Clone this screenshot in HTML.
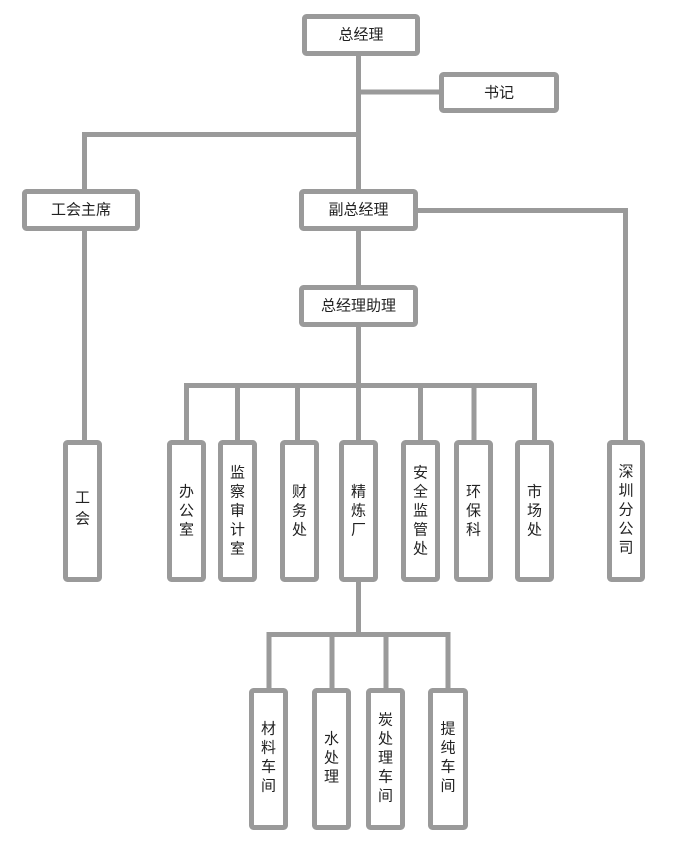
<!DOCTYPE html>
<html><head><meta charset="utf-8"><style>
html,body{margin:0;padding:0;background:#fff;}
svg{display:block;}
text{font-family:"Liberation Sans","Noto Sans CJK SC",sans-serif;font-size:15px;fill:#222;text-anchor:middle;dominant-baseline:central;}
</style></head><body>
<svg width="682" height="853" viewBox="0 0 682 853" xmlns="http://www.w3.org/2000/svg">
<g stroke="#9a9a9a" stroke-width="5" fill="none">
<!-- connectors -->
<line x1="358.5" y1="54" x2="358.5" y2="192"/>
<line x1="358.5" y1="92" x2="442" y2="92"/>
<line x1="84.5" y1="134.5" x2="358.5" y2="134.5"/>
<line x1="84.5" y1="132" x2="84.5" y2="192"/>
<line x1="84.5" y1="229" x2="84.5" y2="442"/>
<line x1="416" y1="210.5" x2="628" y2="210.5"/>
<line x1="625.5" y1="208" x2="625.5" y2="442"/>
<line x1="358.5" y1="229" x2="358.5" y2="287"/>
<line x1="358.5" y1="325" x2="358.5" y2="385"/>
<line x1="186" y1="385.5" x2="536.5" y2="385.5"/>
<line x1="186.5" y1="383" x2="186.5" y2="442"/>
<line x1="237.5" y1="383" x2="237.5" y2="442"/>
<line x1="297.5" y1="383" x2="297.5" y2="442"/>
<line x1="358.5" y1="383" x2="358.5" y2="442"/>
<line x1="420.5" y1="383" x2="420.5" y2="442"/>
<line x1="474" y1="383" x2="474" y2="442"/>
<line x1="534.5" y1="383" x2="534.5" y2="442"/>
<line x1="358.5" y1="580" x2="358.5" y2="634.5"/>
<line x1="267" y1="634.5" x2="450" y2="634.5"/>
<line x1="269" y1="632" x2="269" y2="690"/>
<line x1="332" y1="632" x2="332" y2="690"/>
<line x1="386" y1="632" x2="386" y2="690"/>
<line x1="448" y1="632" x2="448" y2="690"/>
<!-- boxes -->
<rect x="304.5" y="16.5" width="113" height="37" rx="2" fill="#fff"/>
<rect x="441.5" y="74.5" width="115" height="36" rx="2" fill="#fff"/>
<rect x="24.5" y="191.5" width="113" height="37" rx="2" fill="#fff"/>
<rect x="301.5" y="191.5" width="114" height="37" rx="2" fill="#fff"/>
<rect x="301.5" y="287.5" width="114" height="37" rx="2" fill="#fff"/>
<rect x="65.5" y="442.5" width="34" height="137" rx="2" fill="#fff"/>
<rect x="169.5" y="442.5" width="34" height="137" rx="2" fill="#fff"/>
<rect x="220.5" y="442.5" width="34" height="137" rx="2" fill="#fff"/>
<rect x="282.5" y="442.5" width="34" height="137" rx="2" fill="#fff"/>
<rect x="341.5" y="442.5" width="34" height="137" rx="2" fill="#fff"/>
<rect x="403.5" y="442.5" width="34" height="137" rx="2" fill="#fff"/>
<rect x="456.5" y="442.5" width="34" height="137" rx="2" fill="#fff"/>
<rect x="517.5" y="442.5" width="34" height="137" rx="2" fill="#fff"/>
<rect x="609.5" y="442.5" width="33" height="137" rx="2" fill="#fff"/>
<rect x="251.5" y="690.5" width="34" height="137" rx="2" fill="#fff"/>
<rect x="314.5" y="690.5" width="34" height="137" rx="2" fill="#fff"/>
<rect x="368.5" y="690.5" width="34" height="137" rx="2" fill="#fff"/>
<rect x="430.5" y="690.5" width="35" height="137" rx="2" fill="#fff"/>
</g>
<text x="361" y="35">总经理</text>
<text x="499" y="93">书记</text>
<text x="81" y="210">工会主席</text>
<text x="358.5" y="210">副总经理</text>
<text x="358.5" y="306">总经理助理</text>
<!-- vertical labels -->
<text x="82.5" y="498">工</text><text x="82.5" y="519">会</text>
<text x="186.5" y="492">办</text><text x="186.5" y="511">公</text><text x="186.5" y="530">室</text>
<text x="237.5" y="473">监</text><text x="237.5" y="492">察</text><text x="237.5" y="511">审</text><text x="237.5" y="530">计</text><text x="237.5" y="549">室</text>
<text x="299.5" y="492">财</text><text x="299.5" y="511">务</text><text x="299.5" y="530">处</text>
<text x="358.5" y="492">精</text><text x="358.5" y="511">炼</text><text x="358.5" y="530">厂</text>
<text x="420.5" y="473">安</text><text x="420.5" y="492">全</text><text x="420.5" y="511">监</text><text x="420.5" y="530">管</text><text x="420.5" y="549">处</text>
<text x="473.5" y="492">环</text><text x="473.5" y="511">保</text><text x="473.5" y="530">科</text>
<text x="534.5" y="492">市</text><text x="534.5" y="511">场</text><text x="534.5" y="530">处</text>
<text x="626" y="472">深</text><text x="626" y="491">圳</text><text x="626" y="510">分</text><text x="626" y="529">公</text><text x="626" y="548">司</text>
<text x="268.5" y="729">材</text><text x="268.5" y="748">料</text><text x="268.5" y="767">车</text><text x="268.5" y="786">间</text>
<text x="331.5" y="739">水</text><text x="331.5" y="758">处</text><text x="331.5" y="777">理</text>
<text x="385.5" y="720">炭</text><text x="385.5" y="739">处</text><text x="385.5" y="758">理</text><text x="385.5" y="777">车</text><text x="385.5" y="796">间</text>
<text x="448" y="729">提</text><text x="448" y="748">纯</text><text x="448" y="767">车</text><text x="448" y="786">间</text>
</svg>
</body></html>
